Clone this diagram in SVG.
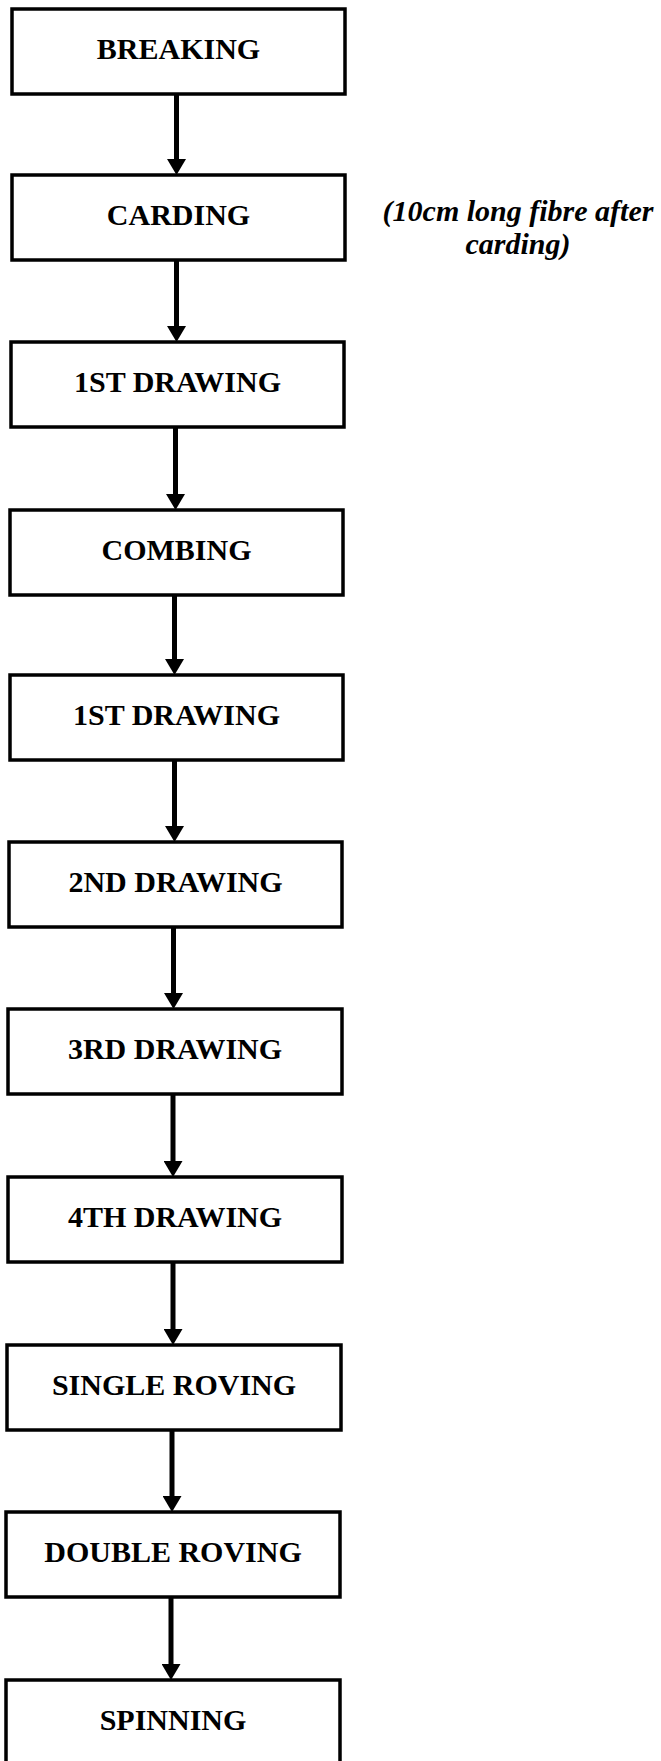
<svg xmlns="http://www.w3.org/2000/svg" width="661" height="1761" viewBox="0 0 661 1761">
<defs>
<style>
.box{fill:#fff;stroke:#000;stroke-width:3.5}
.lbl{font-family:"Liberation Serif","Times New Roman",serif;font-weight:bold;font-size:30px;text-anchor:middle;fill:#000}
.note{font-family:"Liberation Serif","Times New Roman",serif;font-weight:bold;font-style:italic;font-size:30px;text-anchor:middle;fill:#000}
.conn{stroke:#000;stroke-width:5;fill:none}
</style>
<marker id="ah" markerUnits="userSpaceOnUse" markerWidth="16" markerHeight="19" viewBox="0 0 16 19" refX="3" refY="9.5" orient="auto">
<path d="M0,0 L16,9.5 L0,19 Z" fill="#000"/>
</marker>
</defs>
<rect width="661" height="1761" fill="#fff"/>
<g id="connectors">
<line class="conn" x1="176.5" y1="94" x2="176.5" y2="162" marker-end="url(#ah)"/>
<line class="conn" x1="176.5" y1="260" x2="176.5" y2="329" marker-end="url(#ah)"/>
<line class="conn" x1="175.5" y1="427" x2="175.5" y2="497" marker-end="url(#ah)"/>
<line class="conn" x1="174.5" y1="595" x2="174.5" y2="662" marker-end="url(#ah)"/>
<line class="conn" x1="174.5" y1="760" x2="174.5" y2="829" marker-end="url(#ah)"/>
<line class="conn" x1="173.5" y1="927" x2="173.5" y2="996" marker-end="url(#ah)"/>
<line class="conn" x1="173" y1="1094" x2="173" y2="1164" marker-end="url(#ah)"/>
<line class="conn" x1="173" y1="1262" x2="173" y2="1332" marker-end="url(#ah)"/>
<line class="conn" x1="172" y1="1430" x2="172" y2="1499" marker-end="url(#ah)"/>
<line class="conn" x1="171" y1="1597" x2="171" y2="1667" marker-end="url(#ah)"/>
</g>
<g id="n0"><rect class="box" x="12" y="9" width="333" height="85"/><text class="lbl" x="178.5" y="59">BREAKING</text></g>
<g id="n1"><rect class="box" x="12" y="175" width="333" height="85"/><text class="lbl" x="178.5" y="225">CARDING</text></g>
<g id="note"><text class="note" x="518" y="221">(10cm long fibre after</text><text class="note" x="518" y="254">carding)</text></g>
<g id="n2"><rect class="box" x="11" y="342" width="333" height="85"/><text class="lbl" x="177.5" y="392">1ST DRAWING</text></g>
<g id="n3"><rect class="box" x="10" y="510" width="333" height="85"/><text class="lbl" x="176.5" y="560">COMBING</text></g>
<g id="n4"><rect class="box" x="10" y="675" width="333" height="85"/><text class="lbl" x="176.5" y="725">1ST DRAWING</text></g>
<g id="n5"><rect class="box" x="9" y="842" width="333" height="85"/><text class="lbl" x="175.5" y="892">2ND DRAWING</text></g>
<g id="n6"><rect class="box" x="8" y="1009" width="334" height="85"/><text class="lbl" x="175" y="1059">3RD DRAWING</text></g>
<g id="n7"><rect class="box" x="8" y="1177" width="334" height="85"/><text class="lbl" x="175" y="1227">4TH DRAWING</text></g>
<g id="n8"><rect class="box" x="7" y="1345" width="334" height="85"/><text class="lbl" x="174" y="1395">SINGLE ROVING</text></g>
<g id="n9"><rect class="box" x="6" y="1512" width="334" height="85"/><text class="lbl" x="173" y="1562">DOUBLE ROVING</text></g>
<g id="n10"><rect class="box" x="6" y="1680" width="334" height="85"/><text class="lbl" x="173" y="1730">SPINNING</text></g>
</svg>
